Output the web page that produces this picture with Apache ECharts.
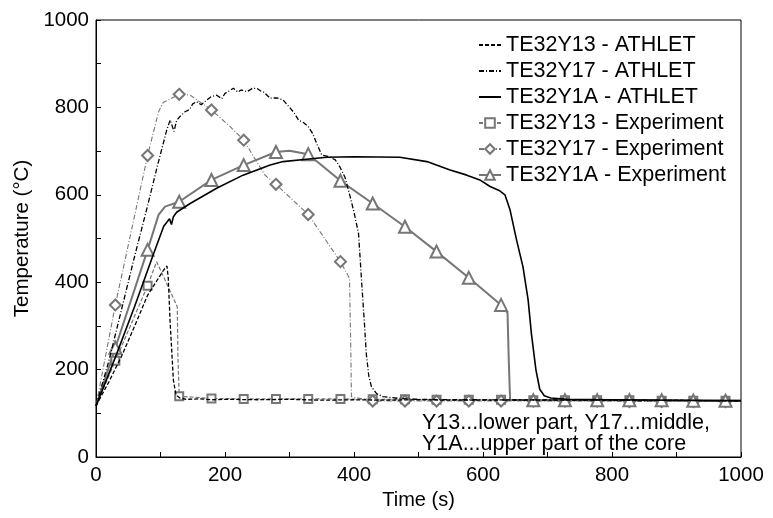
<!DOCTYPE html>
<html><head><meta charset="utf-8">
<script src="https://cdn.jsdelivr.net/npm/echarts@6/dist/echarts.min.js"></script>
<style>html,body{margin:0;padding:0;background:#fff}#c{width:773px;height:518px}</style>
</head><body><div id="c"></div>
<script>
// ---- data ----
const seriesNames = ['TE32Y13 - ATHLET','TE32Y17 - ATHLET','TE32Y1A - ATHLET','TE32Y13 - Experiment','TE32Y17 - Experiment','TE32Y1A - Experiment'];
const xTicks = [0,200,400,600,800,1000];
const yTicks = [0,200,400,600,800,1000];
const noteLines = ['Y13...lower part, Y17...middle,','Y1A...upper part of the core'];

// times at which the experiment markers are drawn
const expMarkerT = [30,80,129,179,229,279,329,379,429,479,528,578,628,678,727,777,827,877,926,976];

const y13AthletT = [0,20,40,60,80,95,105,110,112,115,120,124,130,140,160,180,200,250,300,350,400,450,500,550,600,650,700,750,800,850,900,950,1000];
const y13AthletV = [117,172,232,300,370,405,428,437,410,306,176,142,135,132,133,131,132,131,132,130,131,130,131,130,130,131,130,130,130,129,130,129,128];

const y17AthletT = [0,20,40,60,80,95,110,115,118,121,125,130,138,145,150,156,163,170,178,187,195,200,207,213,220,225,234,242,249,255,260,270,280,290,300,307,314,322,329,336,342,350,360,371,378,386,394,400,407,412,416,419,423,427,435,445,470,500,550,600,650,700,750,800,850,900,950,1000];
const y17AthletV = [117,220,340,460,575,665,750,771,758,745,770,779,790,795,808,813,806,815,824,828,820,832,838,844,835,840,836,843,844,838,835,821,822,817,800,788,771,765,756,740,718,691,688,680,664,640,596,560,512,397,310,237,185,161,145,138,134,132,131,131,130,131,130,130,130,129,129,129];

const y1aAthletT = [0,30,60,90,105,114,117,120,125,146,187,228,270,290,330,358,400,471,513,549,575,595,611,625,634,642,652,662,670,675,682,688,695,705,730,800,900,1000];
const y1aAthletV = [117,228,345,468,528,545,532,550,560,580,615,645,668,676,682,686,687,686,676,657,645,634,619,610,600,565,497,435,359,283,200,155,140,135,132,131,130,129];

const y13ExpT = [0,30,80,94,126,127,129,179,229,279,329,379,429,479,528,578,628,678,727,777,827,877,926,976,1000];
const y13ExpV = [117,220,392,447,344,230,139,134,133,133,133,133,132,132,131,131,131,130,130,130,130,129,129,129,129];

const y17ExpT = [0,30,80,97,104,129,146,179,208,229,249,262,279,329,379,393,395,396,429,479,528,578,628,678,727,777,827,877,926,976,1000];
const y17ExpV = [117,348,690,790,811,830,828,794,756,725,676,645,624,555,447,409,250,138,128,128,128,128,128,128,128,128,127,127,127,127,127];

const y1aExpT = [0,30,80,97,107,129,179,229,279,300,329,379,429,479,528,578,628,638,640,642,678,727,777,827,877,926,976,1000];
const y1aExpV = [117,250,474,554,573,584,634,668,698,701,693,632,580,527,470,410,348,330,220,131,130,130,130,130,130,129,129,129];

// ---- build ----
const FONT = "'Liberation Sans', Arial, sans-serif";
const GRAY = '#767676';
function pairs(t, v) { return t.map((x, i) => [x, v[i]]); }
function expData(t, v) {
  return t.map((x, i) => expMarkerT.indexOf(x) >= 0 ? { value: [x, v[i]] } : { value: [x, v[i]], symbol: 'none' });
}

const chart = echarts.init(document.getElementById('c'), null, { renderer: 'canvas' });
const option = {
  backgroundColor: '#fff',
  animation: false,
  grid: { left: 96, right: 32, top: 20, bottom: 61, show: true, borderColor: '#000', borderWidth: 1, backgroundColor: 'transparent' },
  legend: {
    orient: 'vertical', left: 473, top: 29,
    itemWidth: 22, itemHeight: 12, itemGap: 4,
    textStyle: { fontSize: 21.5, lineHeight: 21, color: '#000', fontFamily: FONT },
    data: seriesNames.map((n, i) => i < 3 ? { name: n, itemStyle: { opacity: 0, borderWidth: 0 } } : { name: n })
  },
  xAxis: {
    type: 'value', min: 0, max: 1000, interval: 100,
    name: 'Time (s)', nameLocation: 'middle', nameGap: 30,
    nameTextStyle: { fontSize: 20, color: '#000', fontFamily: FONT },
    axisLine: { lineStyle: { color: '#000', width: 1 } },
    axisTick: { inside: true, length: 5, lineStyle: { color: '#000' } },
    axisLabel: { fontSize: 20.5, color: '#000', fontFamily: FONT, margin: 8,
      formatter: v => xTicks.indexOf(v) >= 0 ? String(v) : '' },
    splitLine: { show: false }
  },
  yAxis: {
    type: 'value', min: 0, max: 1000, interval: 100,
    name: 'Temperature (°C)', nameLocation: 'middle', nameGap: 60,
    nameTextStyle: { fontSize: 20.5, color: '#000', fontFamily: FONT },
    axisLine: { lineStyle: { color: '#000', width: 1 } },
    axisTick: { inside: true, length: 5, lineStyle: { color: '#000' } },
    axisLabel: { fontSize: 20.5, color: '#000', fontFamily: FONT, margin: 7,
      formatter: v => yTicks.indexOf(v) >= 0 ? String(v) : '' },
    splitLine: { show: false }
  },
  graphic: [{
    type: 'text', left: 422, top: 412, z: 100,
    style: { text: noteLines.join('\n'), font: '21.5px ' + FONT, fill: '#000', lineHeight: 21 }
  }],
  series: [
    { name: seriesNames[0], type: 'line', data: pairs(y13AthletT, y13AthletV), symbol: 'none', z: 5,
      lineStyle: { color: '#000', width: 1.3, type: [4, 2] }, itemStyle: { color: '#000' } },
    { name: seriesNames[1], type: 'line', data: pairs(y17AthletT, y17AthletV), symbol: 'none', z: 5,
      lineStyle: { color: '#000', width: 1.3, type: [5, 2, 1, 2] }, itemStyle: { color: '#000' } },
    { name: seriesNames[2], type: 'line', data: pairs(y1aAthletT, y1aAthletV), symbol: 'none', z: 5,
      lineStyle: { color: '#000', width: 1.6 }, itemStyle: { color: '#000' } },
    { name: seriesNames[3], type: 'line', data: expData(y13ExpT, y13ExpV), symbol: 'emptyRect', symbolSize: 8, showAllSymbol: true, z: 4,
      lineStyle: { color: GRAY, width: 1.2, type: [4, 2] }, itemStyle: { color: GRAY, borderWidth: 1.8 } },
    { name: seriesNames[4], type: 'line', data: expData(y17ExpT, y17ExpV), symbol: 'emptyDiamond', symbolSize: 11, showAllSymbol: true, z: 4,
      lineStyle: { color: GRAY, width: 1.1, type: [5, 2, 1, 2] }, itemStyle: { color: GRAY, borderWidth: 1.8 } },
    { name: seriesNames[5], type: 'line', data: expData(y1aExpT, y1aExpV), symbol: 'emptyTriangle', symbolSize: 12, showAllSymbol: true, z: 4,
      lineStyle: { color: GRAY, width: 2 }, itemStyle: { color: GRAY, borderWidth: 1.8 } }
  ]
};
chart.setOption(option);
</script>
</body></html>
